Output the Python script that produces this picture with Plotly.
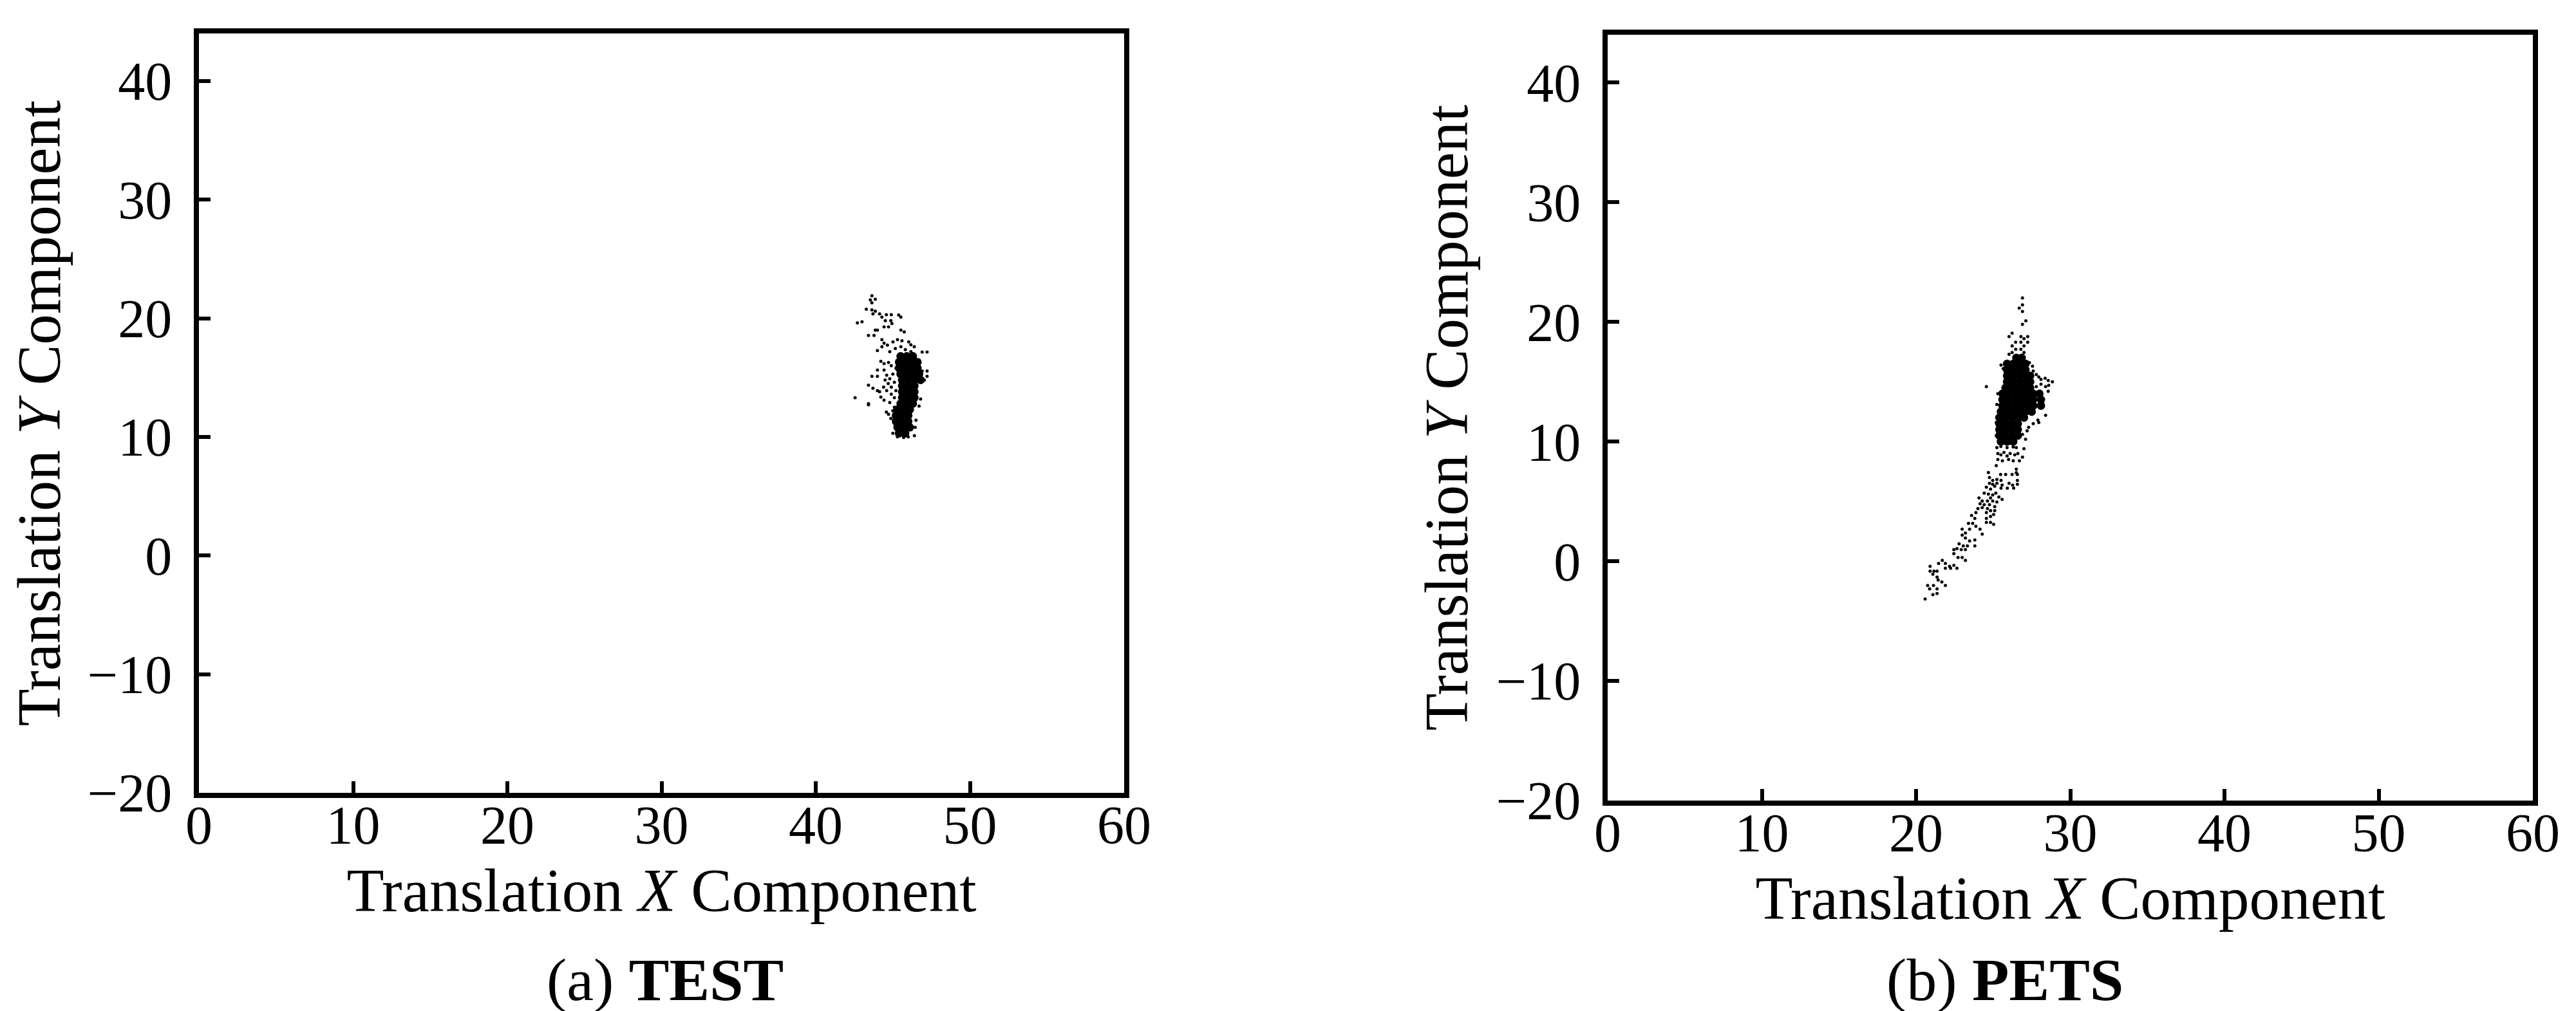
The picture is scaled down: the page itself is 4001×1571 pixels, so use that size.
import plotly.graph_objects as go

# ---------------- data ----------------
x_ticks = [0, 10, 20, 30, 40, 50, 60]
y_ticks = [-20, -10, 0, 10, 20, 30, 40]

# (a) TEST : sparse estimates
test_x = [43.64, 43.54, 43.86, 43.64, 43.28, 43.64, 43.86, 43.71, 44.14, 44.58, 44.90, 45.38, 45.52,
          44.29, 44.51, 44.87, 44.94, 44.72, 44.43, 42.70, 43.00, 43.86, 44.00, 43.42, 43.78, 45.52,
          45.74, 44.29, 44.43, 44.29, 44.65, 45.01, 45.30, 45.59, 46.03, 46.17, 46.39, 44.00, 44.80,
          45.16, 45.52, 45.81, 46.17, 46.90, 47.22, 44.22, 44.43, 44.72, 44.00, 44.43, 43.64, 44.00,
          43.42, 43.71, 44.00, 44.14, 44.22, 44.43, 42.55, 43.42, 43.42, 44.58, 44.72, 44.87, 46.90,
          47.22, 47.22, 47.04, 44.60, 44.80, 45.00, 44.70, 44.90, 45.10, 44.60, 44.90, 45.20, 44.50,
          45.10, 44.80, 45.10, 44.40, 45.20, 44.90, 45.00, 46.80, 46.70, 46.50, 46.45, 45.00, 46.40,
          45.70, 46.00, 45.30]
test_y = [21.90, 21.55, 21.60, 21.30, 20.76, 20.70, 20.60, 20.36, 20.36, 20.30, 20.30, 20.27, 20.10,
          20.10, 19.80, 19.80, 19.55, 19.27, 19.27, 19.60, 19.70, 19.00, 19.00, 18.55, 18.55, 19.00,
          18.85, 18.20, 17.90, 17.60, 17.73, 18.00, 18.20, 18.10, 18.00, 17.76, 17.60, 17.27, 17.18,
          17.45, 17.60, 17.36, 17.18, 17.15, 17.15, 16.36, 16.18, 16.27, 15.64, 15.64, 15.10, 15.10,
          14.36, 14.10, 13.90, 13.80, 13.36, 13.10, 13.30, 12.80, 12.70, 12.10, 11.90, 11.55, 15.55,
          15.55, 15.10, 14.80, 15.20, 14.90, 15.30, 14.50, 14.20, 14.60, 13.90, 13.60, 13.90, 14.80,
          13.30, 12.90, 12.50, 14.20, 15.80, 16.00, 12.20, 13.20, 12.60, 11.40, 10.80, 10.30, 10.10,
          9.95, 10.00, 10.00]

# (a) TEST : dense core estimates
test_core_x = [45.5, 45.9, 46.3,
               45.4, 45.8, 46.2, 46.6,
               45.4, 45.8, 46.2, 46.6,
               45.5, 45.9, 46.3, 46.7,
               45.6, 46.0, 46.4, 46.8,
               45.6, 46.0, 46.4,
               45.6, 46.0, 46.4,
               45.6, 46.0, 46.4,
               45.5, 45.9, 46.3,
               45.3, 45.7, 46.1,
               45.2, 45.6, 46.0,
               45.2, 45.6, 46.0,
               45.3, 45.7, 46.1,
               45.4, 45.8]
test_core_y = [16.8, 16.8, 16.8,
               16.3, 16.3, 16.3, 16.3,
               15.8, 15.8, 15.8, 15.8,
               15.3, 15.3, 15.3, 15.3,
               14.8, 14.8, 14.8, 14.8,
               14.3, 14.3, 14.3,
               13.8, 13.8, 13.8,
               13.3, 13.3, 13.3,
               12.8, 12.8, 12.8,
               12.3, 12.3, 12.3,
               11.8, 11.8, 11.8,
               11.3, 11.3, 11.3,
               10.8, 10.8, 10.8,
               10.3, 10.3]

# (b) PETS : sparse estimates
pets_x = [26.90, 26.90, 26.69, 26.90, 27.12, 26.90, 26.23, 26.03, 26.80, 27.00, 27.24, 27.24, 26.46,
          26.80, 26.23, 27.00, 26.46, 26.80, 26.03, 26.23, 27.00,
          25.51, 25.65, 27.35, 27.55, 27.60, 27.80, 27.96, 28.10, 28.37, 28.57, 28.84, 28.60, 28.40,
          27.80, 28.10, 28.57, 24.56, 25.30, 25.24, 28.40, 27.90, 27.60, 27.30, 27.96, 27.20, 26.90,
          27.10, 25.20, 25.20,
          25.24, 25.50, 25.90, 26.30, 26.50, 27.00, 25.30, 25.50, 25.70, 25.90, 26.10, 26.40, 26.60,
          26.90, 25.30, 25.60, 26.00, 26.30, 26.70, 25.20,
          26.50, 26.50, 24.69, 25.48, 25.81, 26.23, 26.57,
          24.76, 24.97, 25.24, 25.51, 24.76, 24.97, 25.24, 25.58, 26.03, 26.26, 26.57, 26.57, 24.56,
          24.83, 25.10, 25.51, 25.92, 26.33,
          24.42, 24.69, 24.97, 25.17, 25.37, 24.83, 24.08, 24.29, 24.63, 24.97, 25.24, 25.58,
          24.15, 24.42, 24.76, 25.10, 24.01, 24.29, 24.63, 24.83, 25.10, 23.88, 24.56, 25.03, 24.83,
          23.60, 23.81, 24.56, 23.40, 23.67, 24.56, 25.03, 23.88, 24.15, 24.29, 22.99, 23.20, 23.47,
          24.83,
          22.99, 23.20, 23.47, 23.81, 22.79, 23.06, 23.33, 22.45, 22.65, 22.93, 23.20, 23.81,
          22.45, 22.72, 22.99, 23.20, 21.70, 21.46, 21.90, 22.17, 22.45, 22.65, 22.24, 21.90,
          20.91, 20.91, 21.16, 21.36, 21.36, 21.09, 21.67, 21.43, 21.90, 20.75, 20.88, 21.13, 21.36,
          21.09, 21.36, 20.59]
pets_y = [22.00, 21.43, 21.15, 20.87, 20.09, 19.80, 19.06, 18.78, 18.78, 18.60, 18.78, 18.30, 18.30,
          18.30, 18.00, 18.00, 17.72, 17.72, 17.30, 17.44, 17.44,
          16.40, 16.10, 16.60, 16.30, 15.90, 15.60, 15.40, 15.20, 15.30, 15.10, 15.00, 14.70, 14.60,
          14.60, 14.80, 14.20, 14.60, 14.00, 13.10, 12.20, 11.80, 11.50, 11.20, 11.60, 10.90, 10.60,
          10.20, 11.60, 10.50,
          9.50, 9.60, 9.50, 9.55, 9.50, 9.40, 9.00, 8.90, 9.10, 8.80, 9.00, 8.90, 9.00,
          8.70, 8.50, 8.40, 8.50, 8.40, 8.40, 8.00,
          7.70, 7.40, 7.42, 7.25, 7.25, 7.25, 7.25,
          7.00, 6.76, 6.84, 6.76, 6.52, 6.44, 6.52, 6.36, 6.52, 6.36, 6.76, 6.44, 6.19,
          6.03, 6.27, 6.11, 6.11, 6.11,
          5.70, 5.62, 5.54, 5.70, 5.37, 5.29, 5.29, 5.04, 5.04, 5.04, 4.96, 5.17,
          4.81, 4.72, 4.72, 4.56, 4.40, 4.48, 4.40, 4.23, 4.23, 4.07, 4.07, 3.91, 3.75,
          3.83, 3.58, 3.58, 3.17, 3.17, 3.25, 3.09, 2.93, 2.68, 2.27, 2.68, 2.36, 2.68,
          3.25,
          2.19, 1.94, 1.70, 1.78, 1.46, 1.29, 1.29, 0.97, 1.05, 0.97, 0.97, 1.29,
          0.64, 0.31, 0.31, 0.07, 0.07, -0.18, -0.18, -0.42, -0.34, -0.59, -0.59, -0.59,
          -0.42, -0.83, -0.83, -0.83, -1.32, -1.08, -1.73, -1.57, -2.03, -2.03, -2.30, -2.03, -2.30,
          -2.79, -2.70, -3.15]

# (b) PETS : dense core estimates
pets_core_x = [26.5, 26.85,
               25.9, 26.3, 26.7, 27.1,
               25.9, 26.3, 26.7, 27.1,
               25.9, 26.3, 26.7, 27.1, 27.4,
               25.9, 26.3, 26.7, 27.1, 27.4,
               25.8, 26.2, 26.6, 27.0, 27.4,
               25.6, 26.0, 26.4, 26.8, 27.2, 27.6, 28.0,
               25.6, 26.0, 26.4, 26.8, 27.2, 27.6, 28.1,
               25.6, 26.0, 26.4, 26.8, 27.2, 27.6, 28.1,
               25.5, 25.9, 26.3, 26.7, 27.1, 27.5,
               25.4, 25.8, 26.2, 26.6, 27.0,
               25.4, 25.8, 26.2, 26.6,
               25.4, 25.8, 26.2, 26.6,
               25.4, 25.8, 26.2, 26.6,
               25.5, 25.9, 26.3]
pets_core_y = [17.0, 17.0,
               16.5, 16.5, 16.5, 16.5,
               16.0, 16.0, 16.0, 16.0,
               15.5, 15.5, 15.5, 15.5, 15.5,
               15.0, 15.0, 15.0, 15.0, 15.0,
               14.5, 14.5, 14.5, 14.5, 14.5,
               14.0, 14.0, 14.0, 14.0, 14.0, 14.0, 14.0,
               13.5, 13.5, 13.5, 13.5, 13.5, 13.5, 13.5,
               13.0, 13.0, 13.0, 13.0, 13.0, 13.0, 13.0,
               12.5, 12.5, 12.5, 12.5, 12.5, 12.5,
               12.0, 12.0, 12.0, 12.0, 12.0,
               11.5, 11.5, 11.5, 11.5,
               11.0, 11.0, 11.0, 11.0,
               10.5, 10.5, 10.5, 10.5,
               10.0, 10.0, 10.0]

x_title = "Translation <i>X</i> Component"
y_title = "Translation <i>Y</i> Component"
captions = ["(a) <b>TEST</b>", "(b) <b>PETS</b>"]

# ---------------- figure ----------------
FONT = "Liberation Serif, Times New Roman, serif"
W, H = 4001, 1571

fig = go.Figure()
small = dict(size=5, color="black", line=dict(width=0))
big = dict(size=13, color="black", line=dict(width=0))
fig.add_trace(go.Scatter(x=test_x, y=test_y, mode="markers", marker=small, xaxis="x", yaxis="y", showlegend=False))
fig.add_trace(go.Scatter(x=test_core_x, y=test_core_y, mode="markers", marker=big, xaxis="x", yaxis="y", showlegend=False))
fig.add_trace(go.Scatter(x=pets_x, y=pets_y, mode="markers", marker=small, xaxis="x2", yaxis="y2", showlegend=False))
fig.add_trace(go.Scatter(x=pets_core_x, y=pets_core_y, mode="markers", marker=big, xaxis="x2", yaxis="y2", showlegend=False))

def xax(domain, anchor):
    return dict(domain=domain, anchor=anchor, range=[0, 60], tickvals=x_ticks,
                ticks="inside", ticklen=18, tickwidth=6, tickcolor="black",
                showline=True, linewidth=8, linecolor="black", mirror=True,
                showgrid=False, zeroline=False, automargin=False,
                ticklabelstandoff=-30,
                tickfont=dict(family=FONT, size=84, color="black"),
                title=dict(text=x_title, font=dict(family=FONT, size=95, color="black"), standoff=25))

def yax(domain, anchor):
    return dict(domain=domain, anchor=anchor, range=[-20, 44], tickvals=y_ticks,
                ticks="inside", ticklen=18, tickwidth=6, tickcolor="black",
                showline=True, linewidth=8, linecolor="black", mirror=True,
                showgrid=False, zeroline=False, automargin=False,
                ticklabelstandoff=17,
                tickfont=dict(family=FONT, size=84, color="black"),
                title=dict(text=y_title, font=dict(family=FONT, size=95, color="black"), standoff=16))

left_x = [301 / W, 1738 / W]
right_x = [2489 / W, 3926 / W]
left_y = [(H - 1224) / H, (H - 44) / H]
right_y = [(H - 1236) / H, (H - 46) / H]

fig.update_layout(
    template="none",
    width=W, height=H,
    margin=dict(l=0, r=0, t=0, b=0, autoexpand=False),
    paper_bgcolor="white", plot_bgcolor="white",
    xaxis=xax(left_x, "y"), yaxis=yax(left_y, "x"),
    xaxis2=xax(right_x, "y2"), yaxis2=yax(right_y, "x2"),
    annotations=[
        dict(text=captions[0], x=1025 / W, y=(H - 1514) / H, xref="paper", yref="paper",
             showarrow=False, font=dict(family=FONT, size=94, color="black"), xanchor="center", yanchor="middle"),
        dict(text=captions[1], x=3106 / W, y=(H - 1514) / H, xref="paper", yref="paper",
             showarrow=False, font=dict(family=FONT, size=94, color="black"), xanchor="center", yanchor="middle"),
    ],
)

fig.write_html("out.html")
